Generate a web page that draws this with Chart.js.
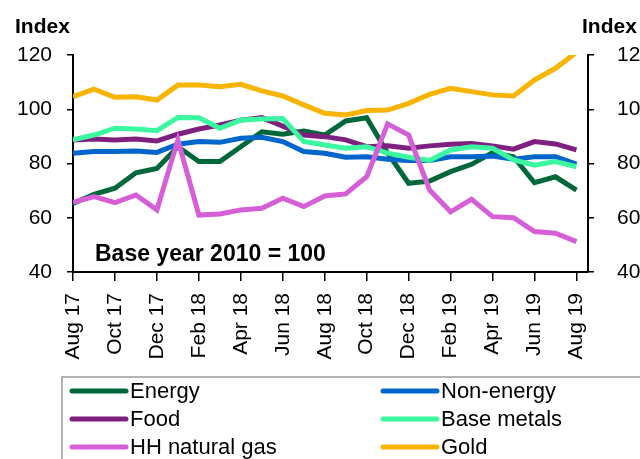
<!DOCTYPE html>
<html>
<head>
<meta charset="utf-8">
<script src="https://cdn.jsdelivr.net/npm/chart.js@4/dist/chart.umd.min.js"></script>
<style>
  html, body { margin: 0; padding: 0; background: #fff; }
  #wrap { width: 640px; height: 459px; position: relative; overflow: hidden; }
</style>
</head>
<body>
<div id="wrap"><canvas id="chart" width="640" height="459"></canvas></div>
<script>
// month labels, Aug 17 .. Aug 19
const months = ["Aug 17","Sep 17","Oct 17","Nov 17","Dec 17","Jan 18","Feb 18","Mar 18","Apr 18","May 18","Jun 18","Jul 18",
  "Aug 18","Sep 18","Oct 18","Nov 18","Dec 18","Jan 19","Feb 19","Mar 19","Apr 19","May 19","Jun 19","Jul 19","Aug 19"];
const yTicks = [40, 60, 80, 100, 120];

// index values (2010 = 100)
const energy    = [65.3,68.6,70.9,76.6,78.2,86.2,80.7,80.7,86.2,91.7,90.8,92.0,90.5,95.7,96.9,83.8,72.7,73.5,77.0,79.7,84.0,82.5,72.9,75.1,70.2];
const nonEnergy = [83.8,84.4,84.4,84.6,84.1,87.1,88.1,87.8,89.3,89.7,88.1,84.4,83.8,82.3,82.5,81.6,81.1,81.1,82.5,82.5,82.8,81.6,82.5,82.5,79.8];
const food      = [88.7,89.0,88.7,89.0,88.3,90.8,92.7,94.2,96.0,96.9,93.8,90.5,89.9,88.7,86.2,86.5,85.6,86.5,87.1,87.4,86.5,85.3,88.1,87.2,85.0];
const baseMetals= [88.7,90.5,93.0,92.7,92.1,97.0,96.9,93.0,96.0,96.4,96.6,88.1,86.8,85.6,86.2,83.8,82.3,81.1,85.0,86.2,85.6,81.3,79.4,80.7,78.8];
const hhGas     = [65.7,67.8,65.6,68.4,62.9,88.7,61.0,61.4,62.9,63.5,67.2,64.1,68.0,68.8,75.1,94.6,90.5,70.2,62.2,66.8,60.4,60.0,54.9,54.3,51.2];
const gold      = [104.6,107.4,104.4,104.6,103.4,108.9,108.9,108.3,109.2,106.8,104.9,101.6,98.5,97.9,99.5,99.7,102.2,105.5,107.7,106.5,105.3,104.9,110.8,115.1,121.0];

const FONT = "'Liberation Sans', Arial, sans-serif";

const series = [
  { label: "Energy",         data: energy,     color: "#00673A", order: 6 },
  { label: "Non-energy",     data: nonEnergy,  color: "#0066CC", order: 5 },
  { label: "Food",           data: food,       color: "#7F2080", order: 4 },
  { label: "Base metals",    data: baseMetals, color: "#3AF7A0", order: 3 },
  { label: "HH natural gas", data: hhGas,      color: "#D65ED6", order: 2 },
  { label: "Gold",           data: gold,       color: "#F7B400", order: 1 },
];

// titles, note and legend box drawn on the canvas
const extras = {
  id: "extras",
  afterDraw(chart) {
    const ctx = chart.ctx;
    ctx.save();
    ctx.fillStyle = "#000";
    ctx.textBaseline = "alphabetic";
    ctx.font = "bold 21px " + FONT;
    ctx.fillText("Index", 15, 33);
    ctx.fillText("Index", 582, 33);
    ctx.font = "bold 23px " + FONT;
    ctx.fillText("Base year 2010 = 100", 95, 261);

    // legend
    ctx.strokeStyle = "#9a9a9a";
    ctx.lineWidth = 1.5;
    ctx.strokeRect(62, 377, 700, 200);
    const cols = [72, 383];
    const rows = [391, 419, 447];
    ctx.font = "22px " + FONT;
    ctx.textBaseline = "middle";
    chart.data.datasets.forEach((ds, i) => {
      const x = cols[i % 2], y = rows[Math.floor(i / 2)];
      ctx.strokeStyle = ds.borderColor;
      ctx.lineWidth = 5;
      ctx.lineCap = "round";
      ctx.beginPath();
      ctx.moveTo(x, y);
      ctx.lineTo(x + 54, y);
      ctx.stroke();
      ctx.fillStyle = "#000";
      ctx.fillText(ds.label, x + 58, y + 1);
    });
    ctx.restore();
  }
};

const yAxis = (pos, width, pad) => ({
  type: "linear",
  position: pos,
  min: 40,
  max: 120,
  afterFit: (s) => { s.width = width; },
  afterBuildTicks: (s) => { s.ticks = yTicks.map(v => ({ value: v })); },
  border: { color: "#000", width: 2 },
  grid: { drawOnChartArea: false, color: "#000", lineWidth: 1.5, tickLength: 6 },
  ticks: { color: "#000", font: { family: FONT, size: 21 }, padding: pad },
});

new Chart(document.getElementById("chart"), {
  type: "line",
  data: {
    datasets: series.map(s => ({
      label: s.label,
      data: s.data.map((v, i) => ({ x: i, y: v })),
      borderColor: s.color,
      backgroundColor: s.color,
      borderWidth: 5,
      pointRadius: 0,
      tension: 0,
      order: s.order,
    })),
  },
  options: {
    responsive: false,
    animation: false,
    devicePixelRatio: 1,
    layout: { padding: { top: 55, bottom: 97, left: 0, right: 0 } },
    plugins: { legend: { display: false }, tooltip: { enabled: false } },
    scales: {
      x: {
        type: "linear",
        min: 0,
        max: 24.55,
        afterFit: (s) => { s.height = 90; },
        afterBuildTicks: (s) => {
          s.ticks = months.map((m, i) => i).filter(i => i % 2 === 0).map(v => ({ value: v }));
        },
        border: { color: "#000", width: 2 },
        grid: { drawOnChartArea: false, color: "#000", lineWidth: 1.5, tickLength: 9 },
        ticks: {
          color: "#000",
          font: { family: FONT, size: 21 },
          minRotation: 90,
          maxRotation: 90,
          autoSkip: false,
          padding: 12,
          callback: (v) => months[v],
        },
      },
      y: yAxis("left", 73, 15),
      y2: yAxis("right", 52, 23),
    },
  },
  plugins: [extras],
});
</script>
</body>
</html>
